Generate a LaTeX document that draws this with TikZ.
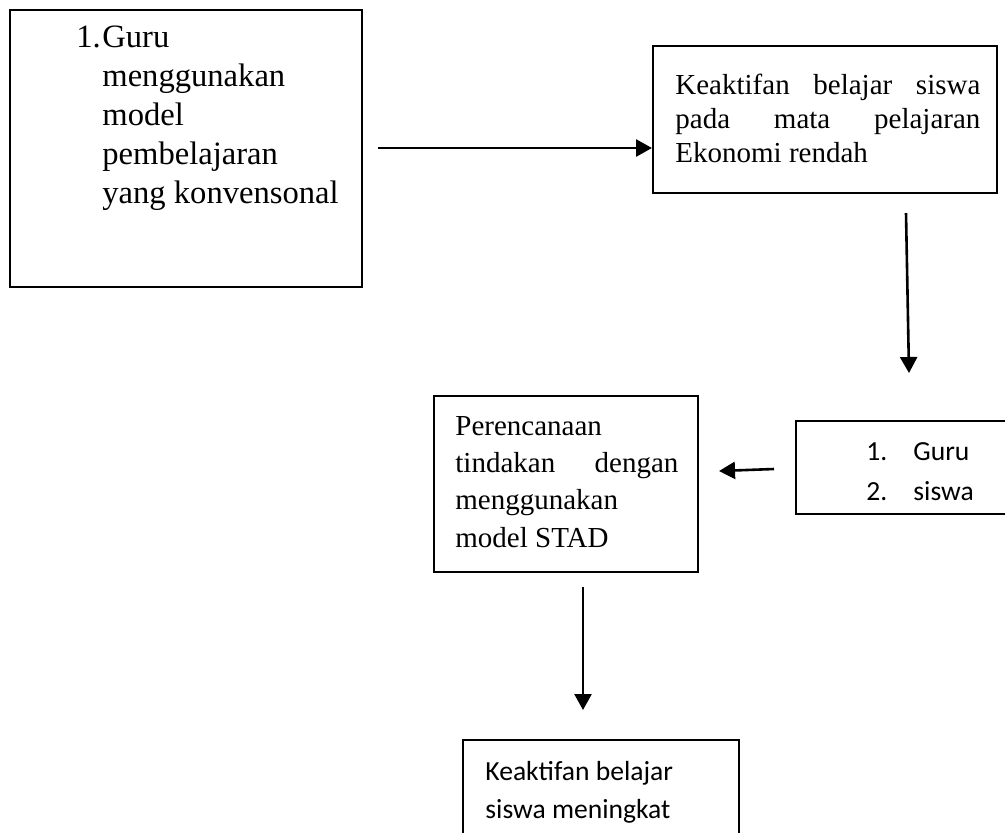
\documentclass[tikz,border=0pt]{standalone}
\usepackage{fontspec}
\setmainfont{Liberation Serif}
\newfontfamily\calibrifont{Carlito}
\usetikzlibrary{arrows.meta, fit}
\tikzset{
    flowbox/.style={draw, line width=1pt, inner sep=0pt},
    flowarrow/.style={line width=1.3pt, -{Triangle[length=8pt, width=8.5pt]}},
    textblock/.style={anchor=base west, inner sep=0pt},
}
\newcommand{\stackedlines}[2]{\vtop{\baselineskip=#1\relax #2}}

\begin{document}
\begin{tikzpicture}[x=0.5pt, y=-0.5pt]
    \useasboundingbox (0, 0) rectangle (1005, 832);
    % boxes
    \node[flowbox, fit={(10, 10) (362, 287)}] (guru) {};
    \node[flowbox, fit={(653, 46) (997, 193)}] (rendah) {};
    \node[flowbox, fit={(434, 396) (698, 572)}] (stad) {};
    \node[flowbox, fit={(796, 421) (1012, 514)}] (subjek) {};
    \node[flowbox, fit={(463, 740) (739, 845)}] (meningkat) {};
    % texts
    \node[textblock, font=\fontsize{16.3}{19.4}\selectfont] (gurutext) at (76, 47)
        {\stackedlines{19.5pt}{%
            \hbox{\hbox to 13pt{1.\hss}Guru}
            \hbox{\hskip 13pt menggunakan}
            \hbox{\hskip 13pt model}
            \hbox{\hskip 13pt pembelajaran}
            \hbox{\hskip 13pt yang konvensonal}}};
    \node[textblock, font=\fontsize{14.5}{17}\selectfont] (rendahtext) at (675, 94)
        {\stackedlines{17pt}{%
            \hbox to 152.5pt{Keaktifan\hfill belajar\hfill siswa}
            \hbox to 152.5pt{pada\hfill mata\hfill pelajaran}
            \hbox{Ekonomi rendah}}};
    \node[textblock, font=\fontsize{14.5}{18.7}\selectfont] (stadtext) at (455, 435)
        {\stackedlines{18.7pt}{%
            \hbox{Perencanaan}
            \hbox to 111.5pt{tindakan\hfill dengan}
            \hbox{menggunakan}
            \hbox{model STAD}}};
    \node[textblock, font=\calibrifont\fontsize{13.8}{20}\selectfont] (subjektext) at (866, 460)
        {\stackedlines{20pt}{%
            \hbox{\hbox to 23.5pt{1.\hfil}Guru}
            \hbox{\hbox to 23.5pt{2.\hfil}siswa}}};
    \node[textblock, font=\calibrifont\fontsize{13.8}{19}\selectfont] (meningkattext) at (485, 780)
        {\stackedlines{19pt}{%
            \hbox{Keaktifan belajar}
            \hbox{siswa meningkat}}};
    % arrows
    \coordinate (a1) at (378, 148);
    \draw[flowarrow] (a1) -- (a1 -| rendah.west);
    \coordinate (a2) at (906, 213);
    \coordinate (a2end) at (909, 373);
    \draw[flowarrow] (a2) -- (a2end);
    \coordinate (a3) at (774, 469);
    \coordinate (a3end) at (719, 471);
    \draw[flowarrow] (a3) -- (a3end);
    \coordinate (a4) at (583, 587);
    \coordinate (a4end) at (583, 710);
    \draw[flowarrow] (a4) -- (a4end);
\end{tikzpicture}
\end{document}
